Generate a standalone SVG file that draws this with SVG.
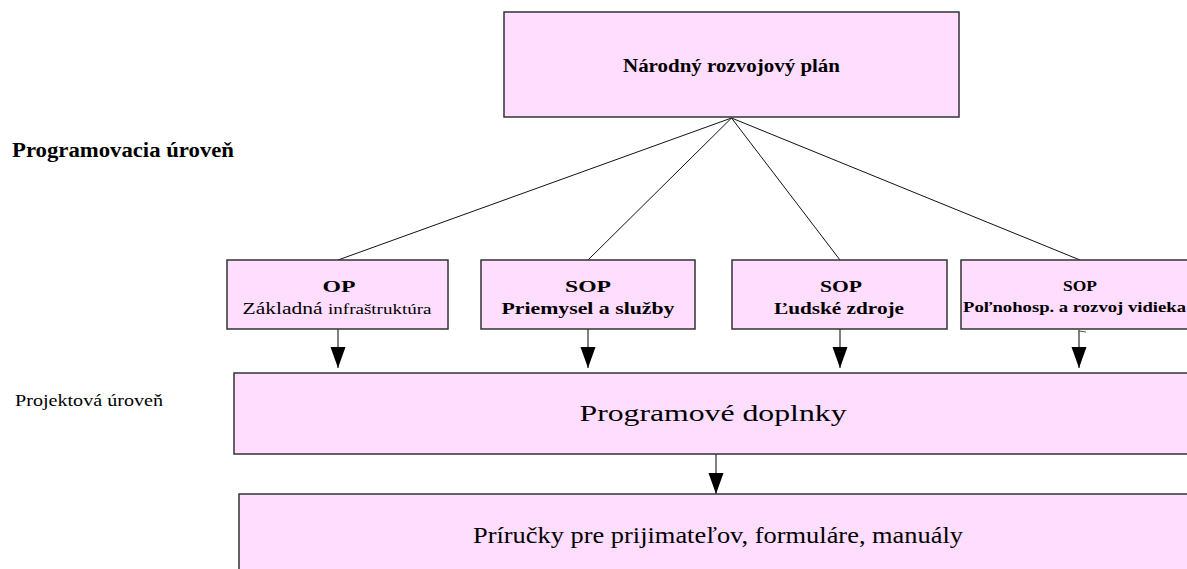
<svg xmlns="http://www.w3.org/2000/svg" width="1187" height="569" viewBox="0 0 1187 569">
<style>
  .box { fill: #FFDDFF; stroke: #333333; stroke-width: 1.5; }
  .t { font-family: "Liberation Serif", "Times New Roman", serif; fill: #000000; }
  .b { font-weight: bold; }
  .line { stroke: #111111; stroke-width: 1; fill: none; }
  .arr { stroke: #555555; stroke-width: 1.5; fill: none; marker-end: url(#ah); }
</style>
<defs>
  <marker id="ah" markerUnits="userSpaceOnUse" markerWidth="22" markerHeight="16" viewBox="0 -8 22 16" refX="21" refY="0" orient="auto">
    <path d="M0,-7.5 L21,0 L0,7.5 Z" fill="#000000"/>
  </marker>
</defs>
<rect width="1187" height="569" fill="#ffffff"/>

<text class="t b" x="12" y="157" font-size="20" textLength="222" lengthAdjust="spacingAndGlyphs">Programovacia úroveň</text>
<text class="t" x="15" y="406" font-size="16" textLength="148" lengthAdjust="spacingAndGlyphs">Projektová úroveň</text>

<g id="connectors">
  <line class="line" x1="731.5" y1="118" x2="338" y2="260"/>
  <line class="line" x1="731.5" y1="118" x2="588" y2="260"/>
  <line class="line" x1="731.5" y1="118" x2="840" y2="260"/>
  <line class="line" x1="731.5" y1="118" x2="1080" y2="260"/>
  <line class="arr" x1="338" y1="329" x2="338" y2="368"/>
  <line class="arr" x1="588" y1="329" x2="588" y2="368"/>
  <line class="arr" x1="840" y1="329" x2="840" y2="368"/>
  <line class="arr" x1="1079" y1="330" x2="1079" y2="368"/>
  <path d="M1079,331 L1086,332" stroke="#555555" stroke-width="1" fill="none"/>
  <line class="arr" x1="716" y1="454" x2="716" y2="494"/>
</g>

<g id="node-nrp">
  <rect class="box" x="504" y="12" width="455" height="105"/>
  <text class="t b" x="731.5" y="72" font-size="18" text-anchor="middle" textLength="217" lengthAdjust="spacingAndGlyphs">Národný rozvojový plán</text>
</g>

<g id="node-op">
  <rect class="box" x="227" y="260" width="221" height="69"/>
  <text class="t b" x="339" y="292" font-size="17" text-anchor="middle" textLength="33" lengthAdjust="spacingAndGlyphs">OP</text>
  <text class="t" x="337" y="314" font-size="17" text-anchor="middle" textLength="189" lengthAdjust="spacingAndGlyphs">Základná <tspan font-size="15">infraštruktúra</tspan></text>
</g>

<g id="node-sop-priemysel">
  <rect class="box" x="481" y="260" width="214" height="69"/>
  <text class="t b" x="588" y="292" font-size="17" text-anchor="middle" textLength="46" lengthAdjust="spacingAndGlyphs">SOP</text>
  <text class="t b" x="588" y="314" font-size="17" text-anchor="middle" textLength="173" lengthAdjust="spacingAndGlyphs">Priemysel a služby</text>
</g>

<g id="node-sop-ludske">
  <rect class="box" x="732" y="260" width="215" height="69"/>
  <text class="t b" x="841" y="292" font-size="17" text-anchor="middle" textLength="42" lengthAdjust="spacingAndGlyphs">SOP</text>
  <text class="t b" x="839" y="314" font-size="17" text-anchor="middle" textLength="130" lengthAdjust="spacingAndGlyphs">Ľudské zdroje</text>
</g>

<g id="node-sop-polnohosp">
  <rect class="box" x="961" y="260" width="240" height="69"/>
  <text class="t b" x="1080" y="291" font-size="15" text-anchor="middle" textLength="34" lengthAdjust="spacingAndGlyphs">SOP</text>
  <text class="t b" x="963" y="312" font-size="15" textLength="223" lengthAdjust="spacingAndGlyphs">Poľnohosp. a rozvoj vidieka</text>
</g>

<g id="node-doplnky">
  <rect class="box" x="234" y="373" width="970" height="81"/>
  <text class="t" x="713" y="421" font-size="23" text-anchor="middle" textLength="267" lengthAdjust="spacingAndGlyphs">Programové doplnky</text>
</g>

<g id="node-prirucky">
  <rect class="box" x="239" y="494" width="965" height="100"/>
  <text class="t" x="718" y="543" font-size="23" text-anchor="middle" textLength="490" lengthAdjust="spacingAndGlyphs">Príručky pre prijimateľov, formuláre, manuály</text>
</g>
</svg>
